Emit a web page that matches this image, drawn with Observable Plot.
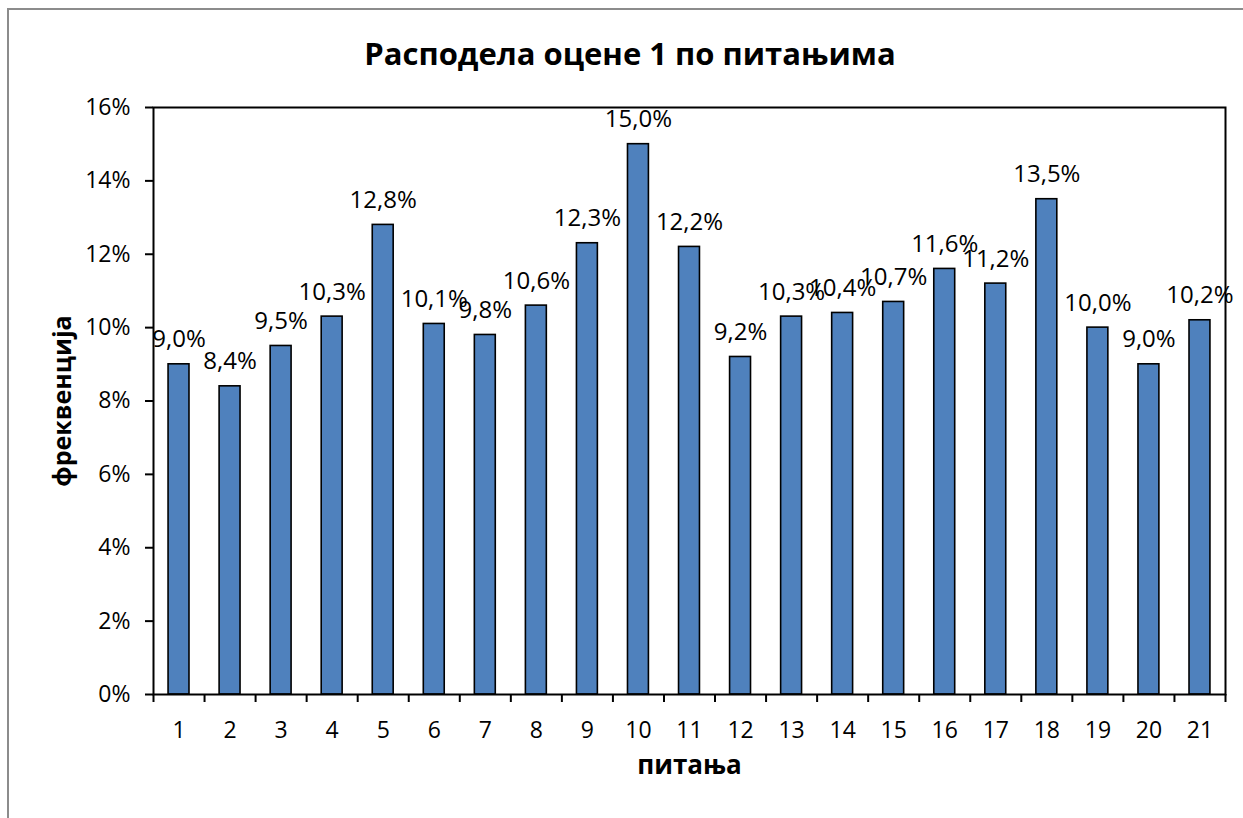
<!DOCTYPE html>
<html><head><meta charset="utf-8">
<script src="https://cdn.jsdelivr.net/npm/d3@7"></script>
<script src="https://cdn.jsdelivr.net/npm/@observablehq/plot@0.6"></script>
<style>
html,body{margin:0;padding:0;background:#fff;overflow:hidden;}
#wrap{position:relative;width:1243px;height:818px;font-family:"Open Sans",sans-serif;}
#frame{position:absolute;left:7px;top:8px;width:1300px;height:900px;border-top:2px solid #8c8c8c;border-left:2px solid #8c8c8c;box-sizing:border-box;}
#title{position:absolute;left:0;width:1260px;top:32px;text-align:center;font-weight:700;font-size:31px;line-height:42px;color:#000;}
#chart{position:absolute;left:0;top:0;}
</style></head>
<body><div id="wrap"><div id="frame"></div><div id="chart"></div><div id="title">Расподела оцене 1 по питањима</div></div>
<script>
const questions = [1,2,3,4,5,6,7,8,9,10,11,12,13,14,15,16,17,18,19,20,21];
const values = [9.0,8.4,9.5,10.3,12.8,10.1,9.8,10.6,12.3,15.0,12.2,9.2,10.3,10.4,10.7,11.6,11.2,13.5,10.0,9.0,10.2];
const yTicks = [0,2,4,6,8,10,12,14,16];
const xLabel = "питања";
const yLabel = "фреквенција";

const data = questions.map((q,i)=>({q, v: values[i]}));
const boundaries = [0.5, ...questions.map(q=>q+0.5)];
const half = 0.205;
const fmt = v => v.toFixed(1).replace(".", ",") + "%";

const chart = Plot.plot({
  width: 1243, height: 818,
  marginLeft: 153, marginRight: 18, marginTop: 107, marginBottom: 124,
  style: {fontFamily: '"Open Sans", sans-serif', fontSize: "23px", color: "#000", background: "transparent"},
  x: {type: "linear", domain: [0.5, 21.5], axis: null},
  y: {domain: [0, 16], axis: null},
  marks: [
    Plot.rectY(data, {x1: d => d.q - half, x2: d => d.q + half, y: "v", fill: "#4F81BD", stroke: "#000", strokeWidth: 1.6}),
    Plot.frame({stroke: "#000", strokeWidth: 2}),
    Plot.axisY({ticks: yTicks, tickSize: 8, tickPadding: 15, tickFormat: d => d + "%", fontSize: 23, stroke: "#000", strokeWidth: 2, label: null}),
    Plot.axisX({ticks: boundaries, tickSize: 8, tickFormat: () => "", stroke: "#000", strokeWidth: 2, label: null}),
    Plot.axisX({ticks: questions, tickSize: 0, tickPadding: 27, tickFormat: d => String(d), fontSize: 23, label: null}),
    Plot.text(data, {x: "q", y: "v", text: d => fmt(d.v), lineAnchor: "bottom", dy: -17, fontSize: 24, fill: "#000"}),
    Plot.text([xLabel], {frameAnchor: "bottom", text: d => d, dy: 79, textAnchor: "middle", fontWeight: "bold", fontSize: 26, fill: "#000"}),
    Plot.text([yLabel], {frameAnchor: "left", text: d => d, rotate: -90, dx: -91, textAnchor: "middle", fontWeight: "bold", fontSize: 25, fill: "#000"})
  ]
});
chart.style.overflow = "visible";
document.getElementById("chart").appendChild(chart);
</script></body></html>
